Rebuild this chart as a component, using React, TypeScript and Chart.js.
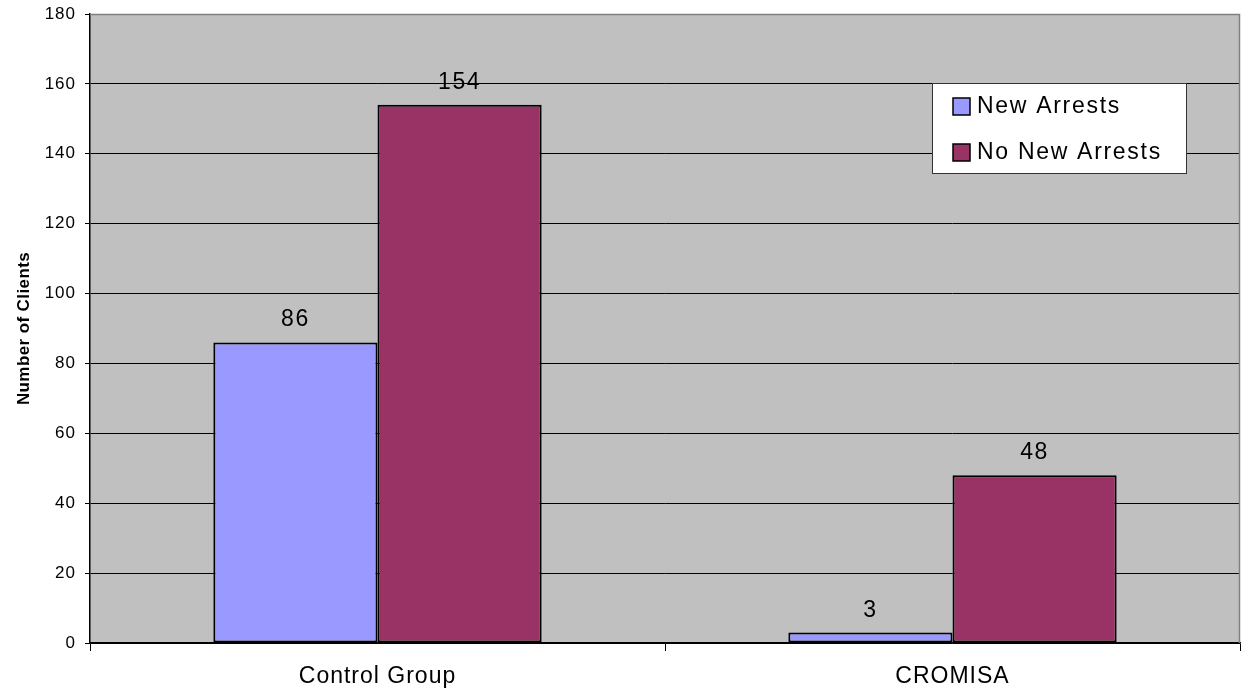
import React, { useEffect, useRef } from "react";
import { Chart, registerables } from "chart.js";

Chart.register(...registerables);

const categories = ["Control Group", "CROMISA"];
const newArrests = [86, 3];
const noNewArrests = [154, 48];
const seriesNames = ["New Arrests", "No New Arrests"];
const yTitle = "Number of Clients";

const FONT = "'Liberation Sans', Arial, sans-serif";

const App: React.FC = () => {
  const ref = useRef<HTMLCanvasElement | null>(null);

  useEffect(() => {
    if (!ref.current) return;
    const colors = ["#9999FF", "#993366"];

    const plotBg = {
      id: "plotBg",
      beforeDraw(chart: any) {
        const { ctx, chartArea } = chart;
        ctx.save();
        ctx.fillStyle = "#C0C0C0";
        ctx.fillRect(chartArea.left, chartArea.top, chartArea.right - chartArea.left, chartArea.bottom - chartArea.top);
        ctx.restore();
        (ctx as any).letterSpacing = "1px";
      },
      afterDraw(chart: any) {
        const { ctx, chartArea } = chart;
        ctx.save();
        ctx.strokeStyle = "#808080";
        ctx.lineWidth = 1.5;
        ctx.beginPath();
        ctx.moveTo(chartArea.left, chartArea.top + 0.5);
        ctx.lineTo(chartArea.right - 0.5, chartArea.top + 0.5);
        ctx.lineTo(chartArea.right - 0.5, chartArea.bottom);
        ctx.stroke();

        ctx.save();
        ctx.translate(24, (chartArea.top + chartArea.bottom) / 2);
        ctx.rotate(-Math.PI / 2);
        ctx.font = `bold 17px ${FONT}`;
        (ctx as any).letterSpacing = "0.4px";
        ctx.fillStyle = "#000";
        ctx.textAlign = "center";
        ctx.textBaseline = "middle";
        ctx.fillText(yTitle, 0, 0);
        ctx.restore();

        const lx = 932, ly = 83, lw = 254, lh = 90;
        ctx.fillStyle = "#FFFFFF";
        ctx.fillRect(lx, ly, lw, lh);
        ctx.strokeStyle = "#333";
        ctx.lineWidth = 1;
        ctx.strokeRect(lx + 0.5, ly + 0.5, lw, lh);
        ctx.font = `23px ${FONT}`;
        (ctx as any).letterSpacing = "1.7px";
        ctx.textBaseline = "middle";
        ctx.textAlign = "left";
        seriesNames.forEach((name, i) => {
          const cy = ly + 23 + i * 46;
          ctx.fillStyle = colors[i];
          ctx.fillRect(953, cy - 8, 17, 17);
          ctx.strokeStyle = "#000";
          ctx.lineWidth = 1.5;
          ctx.strokeRect(953, cy - 8, 17, 17);
          ctx.fillStyle = "#000";
          ctx.fillText(name, 977, cy + 1);
        });
        ctx.restore();
      },
      afterDatasetsDraw(chart: any) {
        const { ctx } = chart;
        ctx.save();
        ctx.font = `23px ${FONT}`;
        (ctx as any).letterSpacing = "1.6px";
        ctx.fillStyle = "#000";
        ctx.textAlign = "center";
        ctx.textBaseline = "alphabetic";
        chart.data.datasets.forEach((ds: any, di: number) => {
          const meta = chart.getDatasetMeta(di);
          meta.data.forEach((el: any, i: number) => {
            ctx.fillText(String(ds.data[i]), el.x, el.y - 16);
          });
        });
        ctx.restore();
      },
    };

    const barStyle = {
      borderColor: "#000",
      borderWidth: 2,
      borderSkipped: false,
      categoryPercentage: 0.571,
      barPercentage: 1,
    };

    const chart = new Chart(ref.current, {
      type: "bar",
      data: {
        labels: categories,
        datasets: [
          { label: seriesNames[0], data: newArrests, backgroundColor: colors[0], ...barStyle },
          { label: seriesNames[1], data: noNewArrests, backgroundColor: colors[1], ...barStyle },
        ],
      },
      options: {
        animation: false,
        responsive: true,
        maintainAspectRatio: false,
        layout: { padding: { left: 0, right: 3, top: 14, bottom: 0 } },
        plugins: {
          legend: { display: false },
          tooltip: { enabled: false },
          title: { display: false },
        },
        scales: {
          x: {
            grid: {
              display: true,
              drawOnChartArea: false,
              drawTicks: true,
              tickLength: 8,
              color: "#000",
              offset: true,
            },
            border: { display: true, color: "#000", width: 1.5 },
            ticks: {
              color: "#000",
              font: { family: FONT, size: 23 },
              padding: 12,
              maxRotation: 0,
            },
            afterFit(scale: any) {
              scale.height = 51;
              scale.paddingLeft = 0;
              scale.paddingRight = 0;
            },
          },
          y: {
            min: 0,
            max: 180,
            ticks: {
              stepSize: 20,
              color: "#000",
              font: { family: FONT, size: 17 },
              padding: 9,
            },
            grid: {
              color: "#000",
              lineWidth: 1,
              tickLength: 5,
              drawTicks: true,
            },
            border: { display: true, color: "#000", width: 1.5 },
            afterFit(scale: any) {
              scale.width = 90;
              scale.paddingTop = 0;
              scale.paddingBottom = 0;
            },
          },
        },
      },
      plugins: [plotBg],
    });
    return () => chart.destroy();
  }, []);

  return (
    <div style={{ position: "fixed", left: 0, top: 0, width: 1243, height: 694, background: "#fff" }}>
      <canvas ref={ref} />
    </div>
  );
};

export default App;
